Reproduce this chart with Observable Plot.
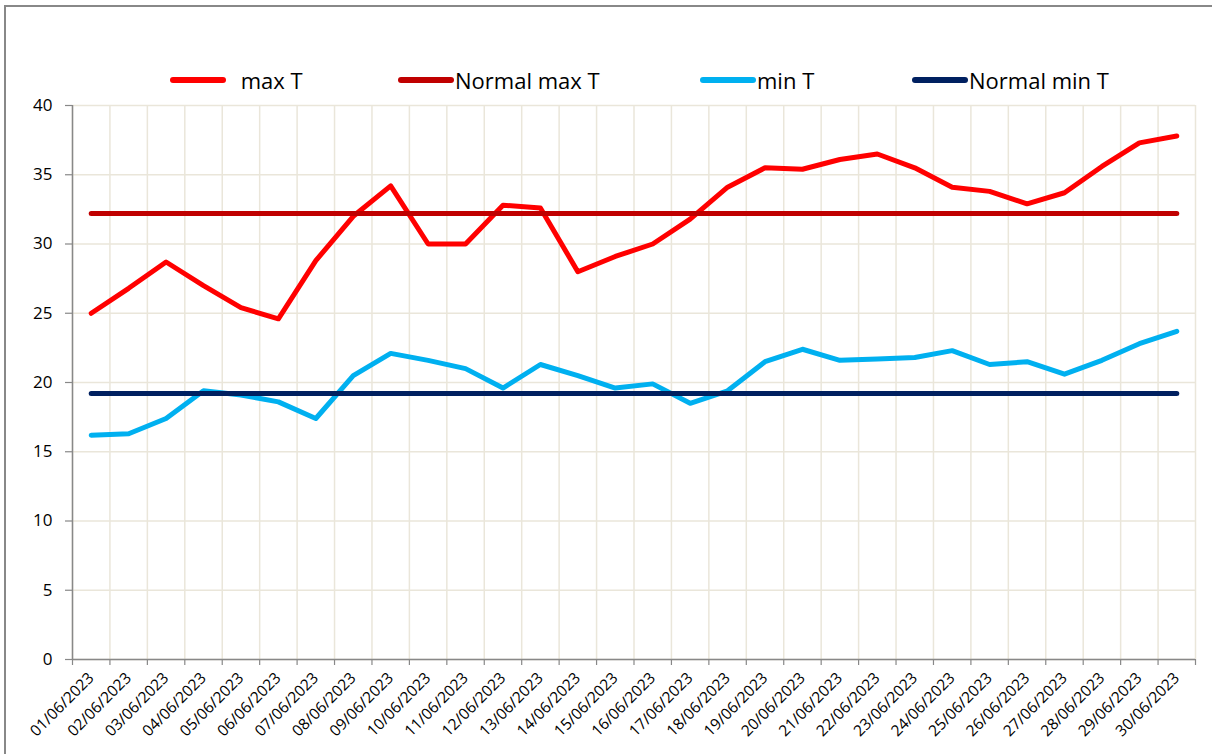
<!DOCTYPE html>
<html>
<head>
<meta charset="utf-8">
<script src="https://cdn.jsdelivr.net/npm/d3@7"></script>
<script src="https://cdn.jsdelivr.net/npm/@observablehq/plot@0.6"></script>
<style>
  html, body { margin: 0; padding: 0; background: #fff; overflow: hidden; }
  #wrap { position: relative; width: 1212px; height: 754px; overflow: hidden; font-family: "Open Sans", sans-serif; }
  #frame { position: absolute; left: 4px; top: 5px; width: 1240px; height: 780px; border: 2px solid #888; box-sizing: border-box; }
  .leg-line { position: absolute; top: 77px; height: 6px; width: 56px; border-radius: 3px; }
  .leg-text { position: absolute; top: 65px; font-size: 22px; line-height: 30px; color: #000; white-space: pre; }
  #chart { position: absolute; left: 0; top: 90px; }
</style>
</head>
<body>
<div id="wrap">
  <div id="frame"></div>
  <div id="legend"></div>
  <div id="chart"></div>
</div>
<script>
const dates = ["01/06/2023","02/06/2023","03/06/2023","04/06/2023","05/06/2023","06/06/2023","07/06/2023","08/06/2023","09/06/2023","10/06/2023",
  "11/06/2023","12/06/2023","13/06/2023","14/06/2023","15/06/2023","16/06/2023","17/06/2023","18/06/2023","19/06/2023","20/06/2023",
  "21/06/2023","22/06/2023","23/06/2023","24/06/2023","25/06/2023","26/06/2023","27/06/2023","28/06/2023","29/06/2023","30/06/2023"];
const maxT = [25.0, 26.8, 28.7, 27.0, 25.4, 24.6, 28.8, 32.0, 34.2, 30.0,
  30.0, 32.8, 32.6, 28.0, 29.1, 30.0, 31.8, 34.1, 35.5, 35.4,
  36.1, 36.5, 35.5, 34.1, 33.8, 32.9, 33.7, 35.6, 37.3, 37.8];
const normalMaxT = [32.2, 32.2, 32.2, 32.2, 32.2, 32.2, 32.2, 32.2, 32.2, 32.2,
  32.2, 32.2, 32.2, 32.2, 32.2, 32.2, 32.2, 32.2, 32.2, 32.2,
  32.2, 32.2, 32.2, 32.2, 32.2, 32.2, 32.2, 32.2, 32.2, 32.2];
const minT = [16.2, 16.3, 17.4, 19.4, 19.1, 18.6, 17.4, 20.5, 22.1, 21.6,
  21.0, 19.6, 21.3, 20.5, 19.6, 19.9, 18.5, 19.4, 21.5, 22.4,
  21.6, 21.7, 21.8, 22.3, 21.3, 21.5, 20.6, 21.6, 22.8, 23.7];
const normalMinT = [19.2, 19.2, 19.2, 19.2, 19.2, 19.2, 19.2, 19.2, 19.2, 19.2,
  19.2, 19.2, 19.2, 19.2, 19.2, 19.2, 19.2, 19.2, 19.2, 19.2,
  19.2, 19.2, 19.2, 19.2, 19.2, 19.2, 19.2, 19.2, 19.2, 19.2];
const seriesNames = ["max T", "Normal max T", "min T", "Normal min T"];
const seriesColors = ["#FF0000", "#C00000", "#00B0F0", "#002060"];
const yTicks = [0, 5, 10, 15, 20, 25, 30, 35, 40];

const seriesValues = [maxT, normalMaxT, minT, normalMinT];
const rows = [];
seriesNames.forEach((s, k) => {
  dates.forEach((d, i) => rows.push({i, date: d, series: s, value: seriesValues[k][i]}));
});
const idx = dates.map((d, i) => i);
const bounds = [-0.5, ...dates.map((d, i) => i + 0.5)];

// legend
const legend = document.getElementById("legend");
const legLeft = [170, 398, 700, 912];
const legTextLeft = [235, 455, 757, 969];
seriesNames.forEach((s, k) => {
  const l = document.createElement("div");
  l.className = "leg-line";
  l.style.left = legLeft[k] + "px";
  l.style.background = seriesColors[k];
  legend.appendChild(l);
  const t = document.createElement("div");
  t.className = "leg-text";
  t.style.left = legTextLeft[k] + "px";
  t.textContent = (k === 0 ? " " : "") + s;
  legend.appendChild(t);
});

const gridColor = "#EAE6DA";
const axisColor = "#888888";

const chart = Plot.plot({
  width: 1212,
  height: 664,
  marginTop: 15,
  marginLeft: 72,
  marginRight: 17,
  marginBottom: 95,
  style: {fontFamily: "Open Sans", color: "#000", background: "transparent"},
  x: {type: "linear", domain: [-0.5, 29.5]},
  y: {domain: [0, 40]},
  color: {domain: seriesNames, range: seriesColors},
  marks: [
    Plot.gridX(bounds, {stroke: gridColor, strokeOpacity: 1, strokeWidth: 1.5}),
    Plot.gridY(yTicks, {stroke: gridColor, strokeOpacity: 1, strokeWidth: 1.5}),
    Plot.ruleY([0], {stroke: axisColor, strokeWidth: 1.5}),
    Plot.ruleX([-0.5], {stroke: axisColor, strokeWidth: 1.5}),
    Plot.axisY({ticks: yTicks, tickSize: 7, tickPadding: 13, fontSize: 17, label: null, stroke: axisColor, strokeWidth: 1.2}),
    Plot.axisX({ticks: bounds, tickSize: 6, tickFormat: () => "", label: null, stroke: axisColor, strokeWidth: 1.2}),
    Plot.axisX({ticks: idx, tickSize: 0, tickPadding: 16, tickRotate: -45, fontSize: 15.5, tickFormat: (i) => dates[i], label: null}),
    Plot.line(rows, {x: "i", y: "value", z: "series", stroke: "series", strokeWidth: 5, strokeLinecap: "round", strokeLinejoin: "round"})
  ]
});
document.getElementById("chart").appendChild(chart);
</script>
</body>
</html>
